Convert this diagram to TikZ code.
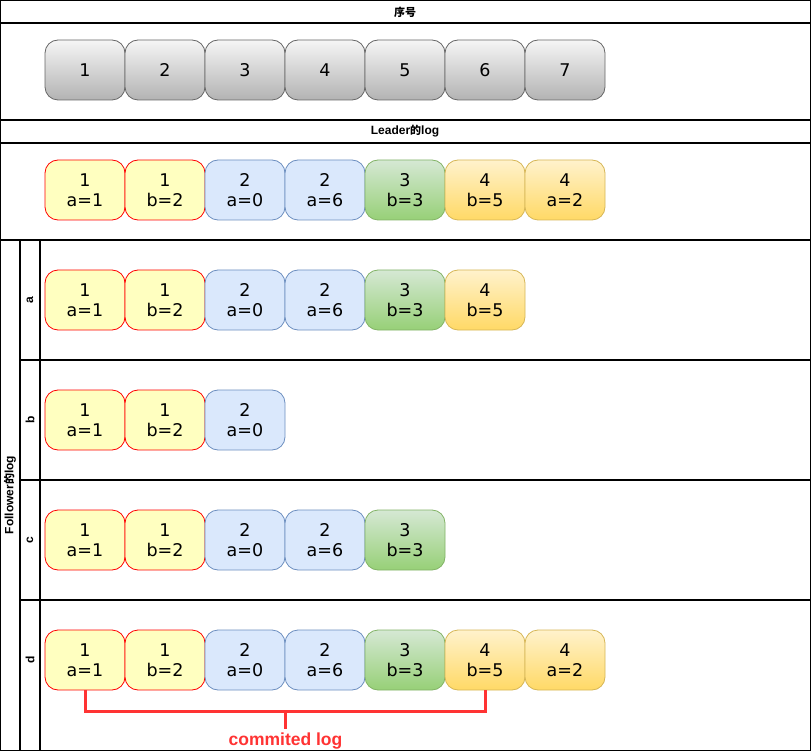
\documentclass[tikz,border=0pt]{standalone}
\usepackage{fontspec}
\setmainfont{DejaVu Sans}
\newfontfamily\hdrfont{Liberation Sans}
\newfontfamily\cjkfont{Noto Sans CJK SC Bold}
\definecolor{gtop}{HTML}{F5F5F5}\definecolor{gbot}{HTML}{B3B3B3}\definecolor{gstr}{HTML}{666666}
\definecolor{yfill}{HTML}{FFFFC0}\definecolor{ystr}{HTML}{FF0000}
\definecolor{bfill}{HTML}{DAE8FC}\definecolor{bstr}{HTML}{6C8EBF}
\definecolor{grtop}{HTML}{D5E8D4}\definecolor{grbot}{HTML}{97D077}\definecolor{grstr}{HTML}{82B366}
\definecolor{otop}{HTML}{FFF2CC}\definecolor{obot}{HTML}{FFD966}\definecolor{ostr}{HTML}{D6B656}
\definecolor{brk}{HTML}{FF3333}
\begin{document}
\begin{tikzpicture}[x=1pt,y=-1pt,
  frame/.style={draw=black,line width=1.2pt},
  cell/.style={minimum width=80pt,minimum height=60pt,rounded corners=13pt,inner sep=0pt,align=center,font=\fontsize{17.5}{20.5}\selectfont,line width=0.8pt},
  seqbox/.style={cell,draw=gstr,top color=gtop,bottom color=gbot},
  ybox/.style={cell,draw=ystr,fill=yfill},
  bbox/.style={cell,draw=bstr,fill=bfill},
  gbox/.style={cell,draw=grstr,top color=grtop,bottom color=grbot},
  obox/.style={cell,draw=ostr,top color=otop,bottom color=obot},
  hdr/.style={font=\hdrfont\bfseries\fontsize{12}{14}\selectfont},
  bracket/.style={draw=brk,line width=3pt}
]
\useasboundingbox (0,0) rectangle (811,751);
% frames
\draw[frame] (0.6,0.6) rectangle (810.4,120);
\draw[frame] (0.6,23) -- (810.4,23);
\draw[frame] (0.6,120) rectangle (810.4,240);
\draw[frame] (0.6,143) -- (810.4,143);
\draw[frame] (0.6,240) rectangle (810.4,750.4);
\draw[frame] (20,240) -- (20,750.4);
\draw[frame] (40,240) -- (40,750.4);
\draw[frame] (20,360) -- (810.4,360);
\draw[frame] (20,480) -- (810.4,480);
\draw[frame] (20,600) -- (810.4,600);
% headers
\node[hdr] (h1) at (405,12) {{\cjkfont\fontsize{11}{14}\selectfont 序号}};
\node[hdr] (h2) at (405,131.5) {Leader{\cjkfont\fontsize{11}{14}\selectfont 的}log};
\node[hdr,rotate=90] (h3) at (10,495) {Follower{\cjkfont\fontsize{11}{14}\selectfont 的}log};
\node[hdr,rotate=90] (la) at (30,300) {a};
\node[hdr,rotate=90] (lb) at (30,420) {b};
\node[hdr,rotate=90] (lc) at (30,540) {c};
\node[hdr,rotate=90] (ld) at (30,660) {d};
% sequence
\foreach \i in {1,...,7} {
  \node[seqbox] (s\i) at (5+80*\i,70) {\i};
}
% leader
\node[ybox] (L1) at (85,190) {1\\a=1};
\node[ybox] (L2) at (165,190) {1\\b=2};
\node[bbox] (L3) at (245,190) {2\\a=0};
\node[bbox] (L4) at (325,190) {2\\a=6};
\node[gbox] (L5) at (405,190) {3\\b=3};
\node[obox] (L6) at (485,190) {4\\b=5};
\node[obox] (L7) at (565,190) {4\\a=2};
% follower a
\node[ybox] (A1) at (85,300) {1\\a=1};
\node[ybox] (A2) at (165,300) {1\\b=2};
\node[bbox] (A3) at (245,300) {2\\a=0};
\node[bbox] (A4) at (325,300) {2\\a=6};
\node[gbox] (A5) at (405,300) {3\\b=3};
\node[obox] (A6) at (485,300) {4\\b=5};
% follower b
\node[ybox] (B1) at (85,420) {1\\a=1};
\node[ybox] (B2) at (165,420) {1\\b=2};
\node[bbox] (B3) at (245,420) {2\\a=0};
% follower c
\node[ybox] (C1) at (85,540) {1\\a=1};
\node[ybox] (C2) at (165,540) {1\\b=2};
\node[bbox] (C3) at (245,540) {2\\a=0};
\node[bbox] (C4) at (325,540) {2\\a=6};
\node[gbox] (C5) at (405,540) {3\\b=3};
% follower d
\node[ybox] (D1) at (85,660) {1\\a=1};
\node[ybox] (D2) at (165,660) {1\\b=2};
\node[bbox] (D3) at (245,660) {2\\a=0};
\node[bbox] (D4) at (325,660) {2\\a=6};
\node[gbox] (D5) at (405,660) {3\\b=3};
\node[obox] (D6) at (485,660) {4\\b=5};
\node[obox] (D7) at (565,660) {4\\a=2};
% commit bracket
\coordinate (mid) at (285.5,711);
\coordinate (tip) at (285.5,729);
\draw[bracket] (D1.south) |- (mid) -| (D6.south);
\draw[bracket] (mid) -- (tip);
\node[font=\hdrfont\bfseries\fontsize{17.5}{20}\selectfont,text=brk] (cl) at (285.5,741) {commited log};
\end{tikzpicture}
\end{document}
